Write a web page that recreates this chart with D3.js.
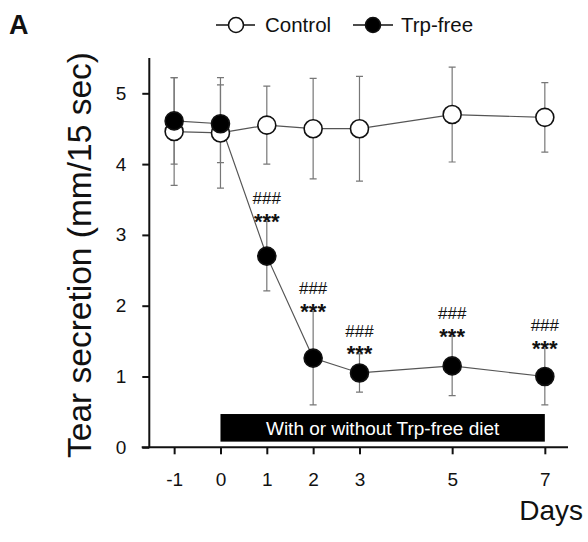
<!DOCTYPE html>
<html>
<head>
<meta charset="utf-8">
<script src="https://cdn.jsdelivr.net/npm/d3@7"></script>
<style>
  html, body { margin: 0; padding: 0; background: #fff; }
  svg { display: block; font-family: "Liberation Sans", Arial, sans-serif; }
</style>
</head>
<body>
<svg id="chart" width="588" height="542"></svg>
<script>
// Days of measurement and tick labels
const days = [-1, 0, 1, 2, 3, 5, 7];
const yTicks = [0, 1, 2, 3, 4, 5];

// Tear secretion, mean and error (mm/15 sec)
const controlMean = [4.46, 4.44, 4.55, 4.50, 4.50, 4.70, 4.66];
const controlErr  = [0.76, 0.78, 0.55, 0.71, 0.74, 0.67, 0.49];
const trpMean     = [4.61, 4.57, 2.70, 1.26, 1.05, 1.15, 1.00];
const trpErr      = [0.61, 0.55, 0.49, 0.66, 0.27, 0.42, 0.40];

// Significance marks above the Trp-free points
const sigDays = [1, 2, 3, 5, 7];
const sigHash = "###";
const sigStar = "***";

// Diet period bar: day range and value range
const dietDays = [0, 7];
const dietRange = [0.08, 0.47];
const dietLabel = "With or without Trp-free diet";

const svg = d3.select("#chart");

const x = d3.scaleLinear().domain([-1.7, 7.5]).range([141.7, 568]);
const y = d3.scaleLinear().domain([0, 5.5]).range([447.3, 57.9]);

// Axes (plain hyphen for negative day)
const fmt = d => String(d);
const xAxis = d3.axisBottom(x).tickValues(days).tickSize(7).tickPadding(18).tickFormat(fmt);
const yAxis = d3.axisLeft(y).tickValues(yTicks).tickSize(7).tickPadding(16).tickFormat(fmt);

const gx = svg.append("g").attr("transform", `translate(0,${y(0)})`).call(xAxis);
const gy = svg.append("g").attr("transform", `translate(${x(-1.7) + 7.6},0)`).call(yAxis);

[gx, gy].forEach(g => {
  g.select(".domain").attr("stroke", "#111").attr("stroke-width", 2);
  g.selectAll(".tick line").attr("stroke", "#111").attr("stroke-width", 2);
  g.selectAll(".tick text").attr("fill", "#111").attr("font-size", 19)
    .attr("font-family", "'Liberation Sans', Arial, sans-serif");
});
gy.select(".domain").attr("d", `M0,${y(5.5)}V${y(0)}`);
gx.select(".domain").attr("d", `M${x(-1.7)},0H${x(7.5)}`);

// Diet period bar
svg.append("rect")
  .attr("x", x(dietDays[0]))
  .attr("y", y(dietRange[1]))
  .attr("width", x(dietDays[1]) - x(dietDays[0]))
  .attr("height", y(dietRange[0]) - y(dietRange[1]))
  .attr("fill", "#000");
svg.append("text")
  .attr("x", (x(dietDays[0]) + x(dietDays[1])) / 2)
  .attr("y", (y(dietRange[0]) + y(dietRange[1])) / 2)
  .attr("dy", "0.36em")
  .attr("text-anchor", "middle")
  .attr("fill", "#fff")
  .attr("font-size", 19)
  .text(dietLabel);

const series = [
  { name: "Control", mean: controlMean, err: controlErr, fill: "#fff" },
  { name: "Trp-free", mean: trpMean, err: trpErr, fill: "#000" }
];

const line = d3.line().x(d => x(d.day)).y(d => y(d.v));
const capW = 3.5;

series.forEach(s => {
  s.pts = days.map((d, i) => ({ day: d, v: s.mean[i], e: s.err[i] }));
});

// Error bars
series.forEach(s => {
  const g = svg.append("g").attr("stroke", "#777").attr("stroke-width", 1.2).attr("fill", "none");
  g.selectAll("path").data(s.pts).join("path")
    .attr("d", p => {
      const cx = x(p.day), t = y(p.v + p.e), b = y(p.v - p.e);
      return `M${cx},${t}V${b}M${cx - capW},${t}H${cx + capW}M${cx - capW},${b}H${cx + capW}`;
    });
});

// Connecting lines
series.forEach(s => {
  svg.append("path").datum(s.pts)
    .attr("d", line)
    .attr("fill", "none")
    .attr("stroke", "#555")
    .attr("stroke-width", 1.2);
});

// Markers
series.forEach(s => {
  svg.append("g").selectAll("circle").data(s.pts).join("circle")
    .attr("cx", p => x(p.day))
    .attr("cy", p => y(p.v))
    .attr("r", 9)
    .attr("fill", s.fill)
    .attr("stroke", "#111")
    .attr("stroke-width", 1.6);
});

// Significance marks: ### over *** as one two-line label
const trp = series[1];
const sig = svg.append("g").attr("text-anchor", "middle").attr("fill", "#111");
sigDays.forEach(d => {
  const p = trp.pts.find(q => q.day === d);
  const top = y(p.v + p.e);
  const t = sig.append("text").attr("x", x(d)).attr("y", top - 17);
  t.append("tspan")
    .attr("x", x(d)).attr("y", top - 17)
    .attr("font-size", 17)
    .text(sigHash);
  t.append("tspan")
    .attr("x", x(d)).attr("y", top + 7.5)
    .attr("font-size", 22).attr("font-weight", "bold")
    .text(sigStar);
});

// Legend
const legend = [
  { name: "Control", fill: "#fff", x0: 216, x1: 255, cx: 236, tx: 265 },
  { name: "Trp-free", fill: "#000", x0: 353, x1: 393, cx: 373, tx: 401 }
];
const lg = svg.append("g");
legend.forEach(l => {
  lg.append("line").attr("x1", l.x0).attr("x2", l.x1).attr("y1", 25).attr("y2", 25)
    .attr("stroke", "#111").attr("stroke-width", 1.6);
  lg.append("circle").attr("cx", l.cx).attr("cy", 25).attr("r", 7.5)
    .attr("fill", l.fill).attr("stroke", "#111").attr("stroke-width", 1.6);
  lg.append("text").attr("x", l.tx).attr("y", 25).attr("dy", "0.36em")
    .attr("font-size", 20.5).attr("fill", "#111").text(l.name);
});

// Panel letter
svg.append("text").attr("x", 9).attr("y", 34)
  .attr("font-size", 27).attr("font-weight", "bold").attr("fill", "#111").text("A");

// Axis titles
svg.append("text")
  .attr("transform", `translate(91,255) rotate(-90)`)
  .attr("text-anchor", "middle")
  .attr("font-size", 33.5)
  .attr("fill", "#111")
  .text("Tear secretion (mm/15 sec)");
svg.append("text")
  .attr("x", 583).attr("y", 520)
  .attr("text-anchor", "end")
  .attr("font-size", 28)
  .attr("fill", "#111")
  .text("Days");
</script>
</body>
</html>
